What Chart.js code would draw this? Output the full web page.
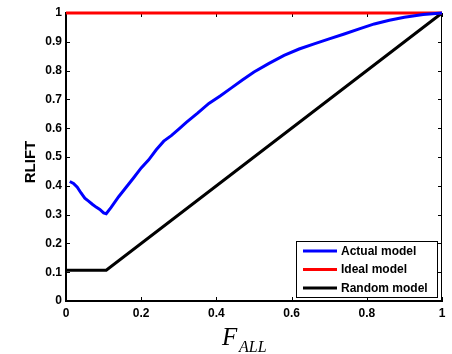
<!DOCTYPE html>
<html>
<head>
<meta charset="utf-8">
<script src="https://cdn.jsdelivr.net/npm/chart.js@4/dist/chart.umd.min.js"></script>
<style>
  body { margin: 0; background: #fff; }
  #wrap { width: 452px; height: 354px; }
</style>
</head>
<body>
<div id="wrap"><canvas id="myChart" width="452" height="354"></canvas></div>
<script>
// values
var actualX = [0.01, 0.02, 0.03, 0.04, 0.05, 0.06, 0.07, 0.08, 0.09, 0.1, 0.107, 0.12, 0.14, 0.16, 0.18, 0.2, 0.22, 0.24, 0.26, 0.28, 0.3, 0.32, 0.35, 0.38, 0.41, 0.44, 0.47, 0.5, 0.54, 0.58, 0.62, 0.66, 0.7, 0.74, 0.78, 0.82, 0.86, 0.9, 0.95, 1];
var actualY = [0.415, 0.408, 0.395, 0.375, 0.357, 0.347, 0.336, 0.326, 0.318, 0.306, 0.303, 0.325, 0.362, 0.395, 0.428, 0.462, 0.49, 0.525, 0.555, 0.574, 0.597, 0.62, 0.652, 0.686, 0.712, 0.74, 0.768, 0.795, 0.825, 0.853, 0.875, 0.893, 0.91, 0.927, 0.945, 0.962, 0.975, 0.985, 0.995, 1];
var idealX = [0, 1];
var idealY = [1, 1];
var randomX = [0, 0.107, 1];
var randomY = [0.107, 0.107, 1];
var seriesNames = ["Actual model", "Ideal model", "Random model"];
var seriesColors = ["#0000ff", "#ff0000", "#000000"];
var xTitle = "F";
var xTitleSub = "ALL";
var yTitle = "RLIFT";

function pts(xs, ys) {
  var out = [];
  for (var i = 0; i < xs.length; i++) out.push({x: xs[i], y: ys[i]});
  return out;
}

// inward ticks, box, legend and axis titles
var extras = {
  id: "extras",
  beforeDatasetsDraw: function(chart) {
    var c = chart.ctx, a = chart.chartArea;
    var xs = chart.scales.x, ys = chart.scales.y;
    c.save();
    c.strokeStyle = "#000";
    c.lineWidth = 1;
    c.beginPath();
    c.moveTo(a.left, a.top + 0.5); c.lineTo(a.right, a.top + 0.5);
    c.moveTo(a.right - 0.5, a.top); c.lineTo(a.right - 0.5, a.bottom);
    xs.ticks.forEach(function(t) {
      var px = Math.round(xs.getPixelForValue(t.value)) + 0.5;
      c.moveTo(px, a.bottom); c.lineTo(px, a.bottom - 4);
      c.moveTo(px, a.top); c.lineTo(px, a.top + 4);
    });
    ys.ticks.forEach(function(t) {
      var py = Math.round(ys.getPixelForValue(t.value)) + 0.5;
      c.moveTo(a.left, py); c.lineTo(a.left + 4, py);
      c.moveTo(a.right, py); c.lineTo(a.right - 4, py);
    });
    c.stroke();
    c.restore();
  },
  afterDraw: function(chart) {
    var c = chart.ctx;
    c.save();
    // legend
    c.fillStyle = "#fff";
    c.fillRect(296, 241, 142, 57);
    c.strokeStyle = "#000";
    c.lineWidth = 1;
    c.strokeRect(296.5, 241.5, 141, 56);
    var rows = [251, 269.5, 288];
    c.font = "bold 12px 'Liberation Sans', Arial, sans-serif";
    c.textBaseline = "middle";
    chart.data.datasets.forEach(function(ds, i) {
      c.strokeStyle = ds.borderColor;
      c.lineWidth = 3;
      c.beginPath();
      c.moveTo(303, rows[i]); c.lineTo(337, rows[i]);
      c.stroke();
      c.fillStyle = "#000";
      c.fillText(ds.label, 341, rows[i] + 0.5);
    });
    // x title
    c.fillStyle = "#000";
    c.textBaseline = "alphabetic";
    c.font = "italic 25px 'Liberation Serif', 'Times New Roman', serif";
    c.fillText(xTitle, 222, 345);
    c.font = "italic 16px 'Liberation Serif', 'Times New Roman', serif";
    c.fillText(xTitleSub, 239, 352);
    // y title
    c.translate(31, 162);
    c.rotate(-Math.PI / 2);
    c.textAlign = "center";
    c.textBaseline = "middle";
    c.font = "bold 15px 'Liberation Sans', Arial, sans-serif";
    c.fillText(yTitle, 0, 0);
    c.restore();
  }
};

var tickFont = { family: "'Liberation Sans', Arial, sans-serif", size: 12, weight: "bold" };

const myChart = new Chart("myChart", {
  type: "scatter",
  data: {
    datasets: [
      { label: seriesNames[0], data: pts(actualX, actualY), borderColor: seriesColors[0] },
      { label: seriesNames[1], data: pts(idealX, idealY), borderColor: seriesColors[1] },
      { label: seriesNames[2], data: pts(randomX, randomY), borderColor: seriesColors[2] }
    ].map(function(d) {
      d.showLine = true;
      d.borderWidth = 3;
      d.pointRadius = 0;
      d.tension = 0;
      d.clip = false;
      d.backgroundColor = d.borderColor;
      return d;
    })
  },
  options: {
    responsive: false,
    animation: false,
    layout: { padding: { top: 13, right: 10, left: 0, bottom: 0 } },
    plugins: { legend: { display: false }, tooltip: { enabled: false } },
    scales: {
      x: {
        type: "linear", min: 0, max: 1,
        grid: { drawOnChartArea: false, drawTicks: false },
        border: { display: true, color: "#000", width: 2 },
        ticks: {
          stepSize: 0.2, padding: 5, color: "#000", font: tickFont, maxRotation: 0,
          callback: function(v) { return String(Math.round(v * 10) / 10); }
        },
        afterFit: function(s) { s.height = 53; }
      },
      y: {
        type: "linear", min: 0, max: 1,
        grid: { drawOnChartArea: false, drawTicks: false },
        border: { display: true, color: "#000", width: 2 },
        ticks: {
          stepSize: 0.1, padding: 4, color: "#000", font: tickFont, autoSkip: false,
          callback: function(v) { return String(Math.round(v * 10) / 10); }
        },
        afterFit: function(s) { s.width = 66; }
      }
    }
  },
  plugins: [extras]
});
</script>
</body>
</html>
